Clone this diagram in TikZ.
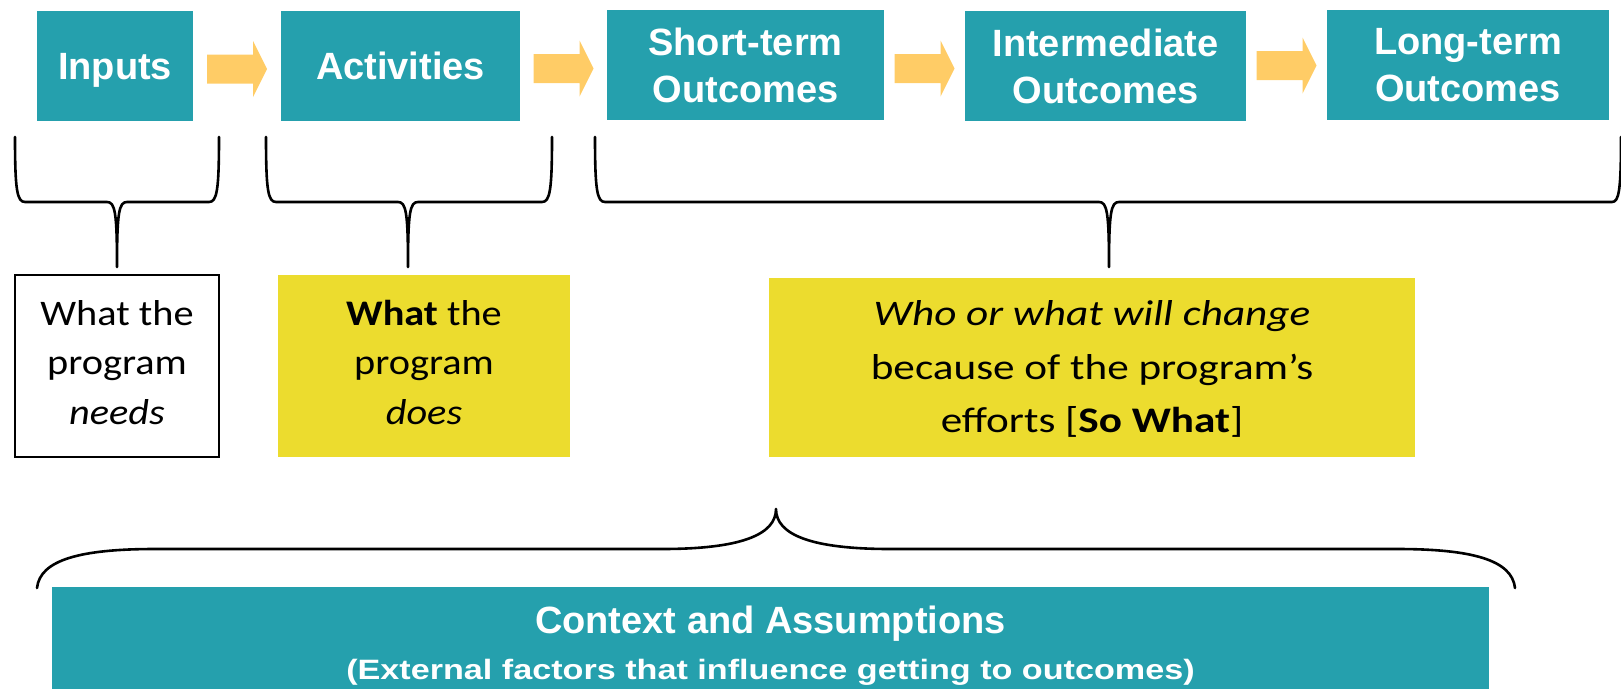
\documentclass[tikz,border=0pt]{standalone}
\usepackage{fontspec}
\usetikzlibrary{calc}
\setmainfont{Carlito}
\newfontfamily\headfont{Liberation Sans}
\newfontfamily\headwide[FakeStretch=1.22]{Liberation Sans}
\newfontfamily\calib[FakeStretch=1.12]{Carlito}
\newfontfamily\calibw[FakeStretch=1.2]{Carlito}
\definecolor{tealbox}{RGB}{37,160,173}
\definecolor{yellowbox}{RGB}{236,220,46}
\definecolor{arroworange}{RGB}{255,204,102}
\tikzset{
  headbox/.style={fill=tealbox, text=white, align=center, inner sep=0pt,
    font=\headfont\bfseries\fontsize{38}{47}\selectfont, minimum height=110pt},
  oneline/.style={text height=27.5pt, text depth=-2pt},
  notebox/.style={align=center, inner sep=0pt, text=black,
    font=\calib\fontsize{36}{49.5}\selectfont},
  yellownote/.style={notebox, fill=yellowbox},
  whitenote/.style={notebox, draw=black, line width=2.5pt, fill=white},
  bracepath/.style={draw=black, line width=2.6pt, line join=round, line cap=round},
  barrow/.pic={\fill[arroworange] (-30,-14.5) -- (16,-14.5) -- (16,-28) -- (30,0) -- (16,28) -- (16,14.5) -- (-30,14.5) -- cycle;}
}
\begin{document}
\begin{tikzpicture}[x=1pt,y=-1pt]
\useasboundingbox (0,0) rectangle (1621,688);
% top row
\node[headbox, oneline, minimum width=156pt] (inputs) at (115,66) {Inputs};
\node[headbox, oneline, minimum width=239pt] (activities) at (400.5,66) {Activities};
\node[headbox, minimum width=277pt] (short) at (745.5,65) {Short-term\\Outcomes};
\node[headbox, minimum width=281pt] (inter) at (1105.5,66) {Intermediate\\Outcomes};
\node[headbox, minimum width=282pt] (long) at (1468,65) {Long-term\\Outcomes};
% block arrows
\coordinate (a1) at ($(inputs.east)!0.5!(activities.west)+(0,3)$);
\coordinate (a2) at ($(activities.east)!0.5!(short.west)+(0,3)$);
\coordinate (a3) at ($(short.east)!0.5!(inter.west)+(0,3)$);
\coordinate (a4) at ($(inter.east)!0.5!(long.west)+(0,0)$);
\pic at (a1) {barrow};
\pic at (a2) {barrow};
\pic at (a3) {barrow};
\pic at (a4) {barrow};
% braces
\path[bracepath] (15,137) .. controls (15,190) and (17,202) .. (25,202) -- (107,202)
  .. controls (115,202) and (117,212) .. (117,267)
  .. controls (117,212) and (119,202) .. (127,202) -- (209,202)
  .. controls (217,202) and (219,190) .. (219,137);
\path[bracepath] (266,137) .. controls (266,190) and (268,202) .. (276,202) -- (398,202)
  .. controls (406,202) and (408,212) .. (408,267)
  .. controls (408,212) and (410,202) .. (418,202) -- (542,202)
  .. controls (550,202) and (552,190) .. (552,137);
\path[bracepath] (595,137) .. controls (595,190) and (597,202) .. (605,202) -- (1099,202)
  .. controls (1107,202) and (1109,212) .. (1109,267)
  .. controls (1109,212) and (1111,202) .. (1119,202) -- (1612,202)
  .. controls (1619,202) and (1621,190) .. (1621,137);
% notes
\node[whitenote, minimum width=204pt, minimum height=182pt, text depth=8pt] (needs) at (117,366)
  {What the\\program\\\textit{needs}};
\node[yellownote, minimum width=292pt, minimum height=182pt, text depth=8pt] (does) at (424,366)
  {\textbf{What} the\\program\\\textit{does}};
\node[yellownote, minimum width=646pt, minimum height=179pt, text depth=2pt,
  font=\calibw\fontsize{36}{53.5}\selectfont] (sowhat) at (1092,367.5)
  {\textit{Who or what will change}\\because of the program’s\\efforts [\textbf{So What}]};
% bottom brace
\path[bracepath] (37,588) .. controls (40,560) and (80,549) .. (155,549) -- (662,549)
  .. controls (740,549) and (776,535) .. (776,509)
  .. controls (776,535) and (812,549) .. (890,549) -- (1397,549)
  .. controls (1472,549) and (1512,560) .. (1515,588);
% context box
\node[fill=tealbox, text=white, align=center, inner sep=0pt, anchor=north,
  minimum width=1437pt, minimum height=120pt, text depth=8pt,
  font=\headfont\bfseries\fontsize{38}{46}\selectfont] (context) at (770.5,587)
  {Context and Assumptions\\{\headwide\bfseries\fontsize{28}{46}\selectfont (External factors that influence getting to outcomes)}};
\end{tikzpicture}
\end{document}
